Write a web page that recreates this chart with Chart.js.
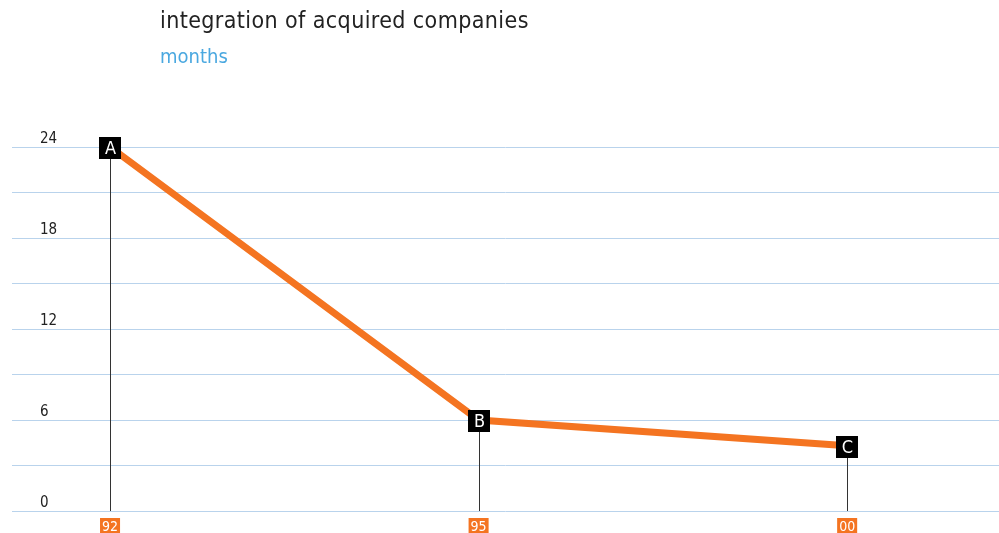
<!DOCTYPE html>
<html>
<head>
<meta charset="utf-8">
<script src="https://cdn.jsdelivr.net/npm/chart.js@4"></script>
<style>
    html, body { margin: 0; padding: 0; background: #fff; }
    #wrap { position: relative; width: 999px; height: 533px; }
    #title { position: absolute; left: 160px; top: 7px; font: 23px "DejaVu Sans Condensed", "Noto Sans", sans-serif; color: #222; letter-spacing: 0.4px; }
    #subtitle { position: absolute; left: 160px; top: 44px; font: 20px "DejaVu Sans Condensed", "Noto Sans", sans-serif; color: #4aa8e0; }
    canvas { position: absolute; left: 0; top: 0; }
</style>
</head>
<body>
<div id="wrap">
    <canvas id="chart" width="999" height="533"></canvas>
    <div id="title">integration of acquired companies</div>
    <div id="subtitle">months</div>
</div>
<script>
const years = ['92', '95', '00'];
const months = [24, 6, 4.3];
const marks = ['A', 'B', 'C'];

const numFont = '"Liberation Sans Narrow", "DejaVu Sans Condensed", sans-serif';

// чёрные квадраты с буквами и вертикальные линии к оси
const markers = {
    id: 'markers',
    beforeDatasetsDraw(chart) {
        const ctx = chart.ctx;
        const bottom = chart.scales.y.getPixelForValue(0);
        const meta = chart.getDatasetMeta(0);
        ctx.save();
        ctx.strokeStyle = '#333';
        ctx.lineWidth = 1;
        meta.data.forEach(pt => {
            const x = Math.round(pt.x) + 0.5;
            ctx.beginPath();
            ctx.moveTo(x, pt.y);
            ctx.lineTo(x, bottom);
            ctx.stroke();
        });
        ctx.restore();
    },
    afterDatasetsDraw(chart) {
        const ctx = chart.ctx;
        const meta = chart.getDatasetMeta(0);
        ctx.save();
        ctx.font = '18px ' + numFont;
        ctx.textAlign = 'center';
        ctx.textBaseline = 'middle';
        meta.data.forEach((pt, i) => {
            ctx.fillStyle = '#000';
            ctx.fillRect(Math.round(pt.x) - 11, Math.round(pt.y) - 10, 22, 22);
            ctx.fillStyle = '#fff';
            ctx.fillText(marks[i], Math.round(pt.x) + 0.5, Math.round(pt.y) + 2);
        });
        ctx.restore();
    }
};

new Chart(document.getElementById('chart'), {
    type: 'line',
    plugins: [markers],
    data: {
        datasets: [{
            data: months.map((v, i) => ({x: i, y: v})),
            borderColor: '#f47421',
            borderWidth: 7,
            pointRadius: 0,
            tension: 0,
            clip: false
        }]
    },
    options: {
        responsive: false,
        animation: false,
        layout: {padding: {left: 12, top: 147, right: 0, bottom: 0}},
        plugins: {legend: {display: false}, tooltip: {enabled: false}},
        scales: {
            x: {
                type: 'linear',
                min: -0.266,
                max: 2.412,
                grid: {display: false, drawTicks: false},
                border: {display: false},
                afterBuildTicks: axis => { axis.ticks = years.map((y, i) => ({value: i})); },
                afterFit: axis => { axis.height = 22; },
                ticks: {
                    autoSkip: false,
                    maxRotation: 0,
                    padding: 8,
                    color: '#fff',
                    font: {family: numFont, size: 14},
                    showLabelBackdrop: true,
                    backdropColor: '#f47421',
                    backdropPadding: {top: 1, bottom: 0, left: 2, right: 2},
                    callback: v => years[v]
                }
            },
            y: {
                min: 0,
                max: 24,
                grid: {color: '#b9d3ec', lineWidth: 1, drawTicks: false},
                border: {display: false},
                afterFit: axis => {
                    axis.width = 0;
                    axis.paddingTop = 0;
                    axis.paddingBottom = 0;
                },
                ticks: {
                    stepSize: 3,
                    mirror: true,
                    padding: 28,
                    labelOffset: -8,
                    color: '#222',
                    font: {family: numFont, size: 15},
                    callback: v => (v % 6 === 0 ? String(v) : '')
                }
            }
        }
    }
});
</script>
</body>
</html>
